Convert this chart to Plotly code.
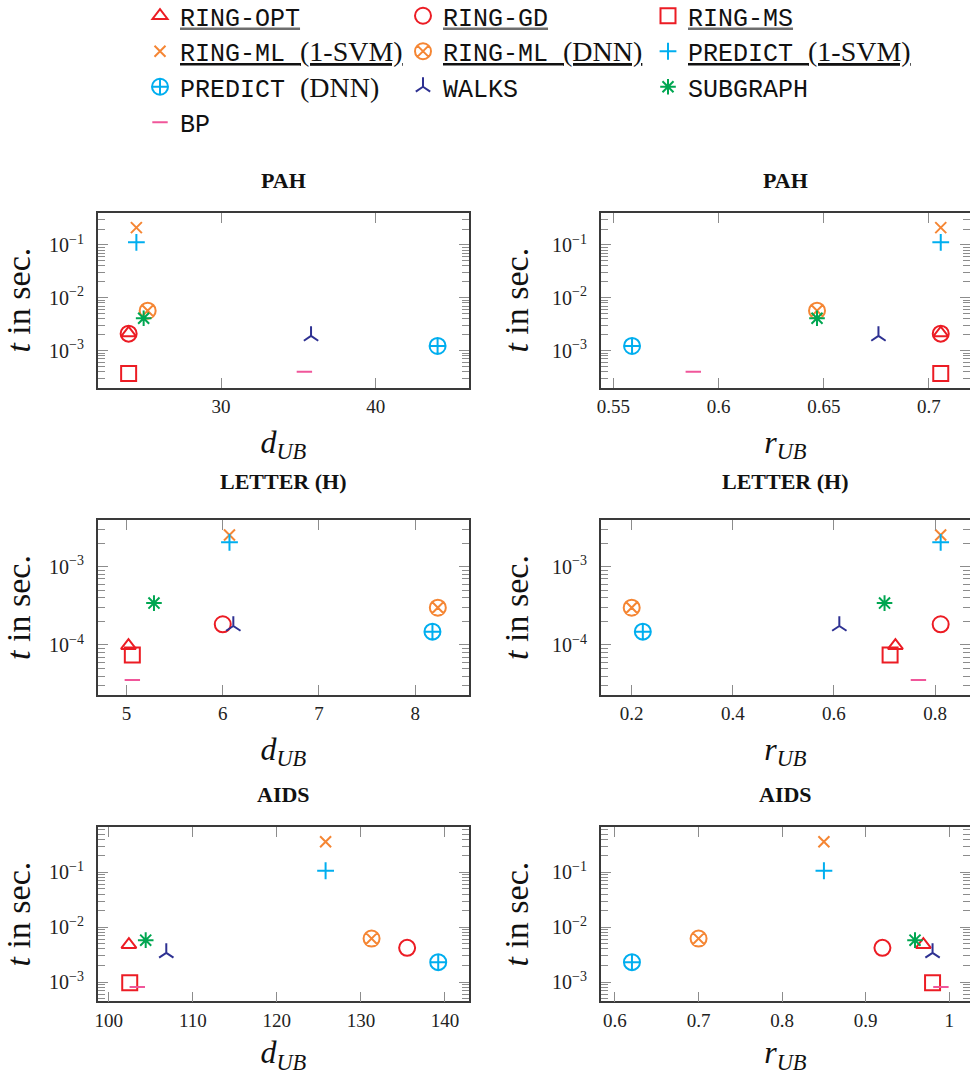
import math
import plotly.graph_objects as go

# ---------------------------------------------------------------- data
datasets = ["PAH", "LETTER (H)", "AIDS"]

# upper bound on the edit distance (d_UB), ratio (r_UB) and runtime in seconds
ring_opt_d = [24.03, 5.02, 102.4]
ring_opt_r = [0.7056, 0.7215, 0.969]
ring_opt_t = [2.15e-3, 9.8e-5, 4.8e-3]

ring_gd_d = [24.03, 6.0, 135.5]
ring_gd_r = [0.7056, 0.811, 0.92]
ring_gd_t = [2.1e-3, 1.84e-4, 4.2e-3]

ring_ms_d = [24.03, 5.06, 102.5]
ring_ms_r = [0.7056, 0.711, 0.98]
ring_ms_t = [3.7e-4, 7.45e-5, 9.7e-4]

ring_ml_svm_d = [24.53, 6.07, 125.8]
ring_ml_svm_r = [0.7056, 0.811, 0.85]
ring_ml_svm_t = [0.213, 2.54e-3, 0.361]

ring_ml_dnn_d = [25.26, 8.236, 131.27]
ring_ml_dnn_r = [0.6468, 0.2, 0.70]
ring_ml_dnn_t = [5.7e-3, 3.0e-4, 6.2e-3]

predict_svm_d = [24.53, 6.07, 125.8]
predict_svm_r = [0.7056, 0.811, 0.85]
predict_svm_t = [0.112, 2.05e-3, 0.107]

predict_dnn_d = [44.0, 8.18, 139.2]
predict_dnn_r = [0.5589, 0.222, 0.6203]
predict_dnn_t = [1.23e-3, 1.48e-4, 2.3e-3]

walks_d = [35.82, 6.11, 106.85]
walks_r = [0.676, 0.6106, 0.98]
walks_t = [1.9e-3, 1.75e-4, 3.4e-3]

subgraph_d = [25.0, 5.285, 104.4]
subgraph_r = [0.6468, 0.70, 0.959]
subgraph_t = [4.1e-3, 3.43e-4, 5.8e-3]

bp_d = [35.39, 5.06, 103.4]
bp_r = [0.588, 0.767, 0.99]
bp_t = [4.0e-4, 3.57e-5, 8.1e-4]

# axis ticks per dataset
d_ticks = [[30, 40], [5, 6, 7, 8], [100, 110, 120, 130, 140]]
r_ticks = [[0.55, 0.6, 0.65, 0.7], [0.2, 0.4, 0.6, 0.8], [0.6, 0.7, 0.8, 0.9, 1.0]]
r_tick_labels = [["0.55", "0.6", "0.65", "0.7"], ["0.2", "0.4", "0.6", "0.8"],
                 ["0.6", "0.7", "0.8", "0.9", "1"]]
t_decades = [[-3, -2, -1], [-4, -3], [-3, -2, -1]]

# ---------------------------------------------------------------- styling
RED = "#ec1c24"
ORANGE = "#f58634"
CYAN = "#00aeef"
NAVY = "#2e3192"
GREEN = "#00a651"
PINK = "#f0569a"

SERIF = "Liberation Serif"
MONO = "Liberation Mono"

# In SVG the underline takes the fill of the element that declares it,
# so the outer span carries the underline colour and the inner one the text colour.
UL_GRAY = "#6e6e6e"
UL_BLACK = "#111111"


def tt(label, extra=None, underline=None):
    """Legend label: typewriter name, optional roman suffix, optional underline."""
    s = label
    if extra:
        s += f' <span style="font-family:{SERIF};font-size:28px">{extra}</span>'
    if underline:
        s = (f'<span style="text-decoration:underline;color:{underline}">'
             f'<span style="color:#111111">{s}</span></span>')
    return s


methods = [
    # name, d, r, t, symbol, size, colour, legend
    (tt("RING-OPT", underline=UL_GRAY), ring_opt_d, ring_opt_r, ring_opt_t,
     "triangle-up-open", 13, RED, "legend"),
    (tt("RING-GD", underline=UL_GRAY), ring_gd_d, ring_gd_r, ring_gd_t,
     "circle-open", 16, RED, "legend2"),
    (tt("RING-MS", underline=UL_GRAY), ring_ms_d, ring_ms_r, ring_ms_t,
     "square-open", 15, RED, "legend3"),
    (tt("RING-ML", "(1-SVM)", underline=UL_BLACK), ring_ml_svm_d, ring_ml_svm_r, ring_ml_svm_t,
     "x-thin-open", 11, ORANGE, "legend"),
    (tt("RING-ML", "(DNN)", underline=UL_BLACK), ring_ml_dnn_d, ring_ml_dnn_r, ring_ml_dnn_t,
     "circle-x-open", 16, ORANGE, "legend2"),
    (tt("PREDICT", "(1-SVM)", underline=UL_BLACK), predict_svm_d, predict_svm_r, predict_svm_t,
     "cross-thin-open", 12, CYAN, "legend3"),
    (tt("PREDICT", "(DNN)"), predict_dnn_d, predict_dnn_r, predict_dnn_t,
     "circle-cross-open", 16, CYAN, "legend"),
    (tt("WALKS"), walks_d, walks_r, walks_t,
     "y-up-open", 12, NAVY, "legend2"),
    (tt("SUBGRAPH"), subgraph_d, subgraph_r, subgraph_t,
     "asterisk-open", 13, GREEN, "legend3"),
    (tt("BP"), bp_d, bp_r, bp_t,
     "line-ew-open", 11, PINK, "legend"),
]

W, H = 970, 1075

# plot-area boxes in pixels: (left, right) per column, (top, bottom) per row
col_px = [(97.7, 469.0), (600.7, 970.0)]
row_px = [(212.7, 387.7), (520.3, 694.7), (827.0, 1001.3)]
title_px = [180.7, 481.7, 794.0]

d_ranges = [[22.03, 46.03], [4.70, 8.56], [98.69, 142.86]]
r_ranges = [[0.544, 0.7195], [0.1387, 0.869], [0.5829, 1.0248]]
t_ranges = [[-3.70, -0.39], [-4.635, -2.407], [-3.352, -0.173]]

fig = go.Figure()

for row in range(3):
    for col in range(2):
        k = 2 * row + col + 1
        xs = "x" if k == 1 else f"x{k}"
        ys = "y" if k == 1 else f"y{k}"
        for name, d, r, t, sym, size, color, leg in methods:
            xv = d[row] if col == 0 else r[row]
            fig.add_trace(go.Scatter(
                x=[xv], y=[t[row]], mode="markers", name=name,
                xaxis=xs, yaxis=ys, legend=leg, legendgroup=name,
                showlegend=(k == 1),
                marker=dict(symbol=sym, size=size, color=color,
                            line=dict(width=2, color=color)),
                hoverinfo="skip",
            ))

layout = {}
TICK_GRAY = "#8c8c8c"
FRAME = "#3a3a3a"
for row in range(3):
    for col in range(2):
        k = 2 * row + col + 1
        xl, xr = col_px[col]
        yt, yb = row_px[row]
        xkey = "xaxis" if k == 1 else f"xaxis{k}"
        ykey = "yaxis" if k == 1 else f"yaxis{k}"
        if col == 0:
            xt, xtl, xrng = d_ticks[row], [str(v) for v in d_ticks[row]], d_ranges[row]
            xtitle = "<i>d</i><sub><i>UB</i></sub>"
        else:
            xt, xtl, xrng = r_ticks[row], r_tick_labels[row], r_ranges[row]
            xtitle = "<i>r</i><sub><i>UB</i></sub>"
        layout[xkey] = dict(
            domain=[xl / W, xr / W], anchor=("y" if k == 1 else f"y{k}"),
            range=xrng, tickmode="array", tickvals=xt, ticktext=xtl,
            ticks="inside", ticklen=10, tickwidth=1.3, tickcolor=TICK_GRAY,
            showline=True, linecolor=FRAME, linewidth=1.6, mirror="ticks",
            showgrid=False, zeroline=False, ticklabelstandoff=1,
            tickfont=dict(family=SERIF, size=19, color="#222"),
            title=dict(text=xtitle, font=dict(family=SERIF, size=32, color="#111"),
                       standoff=14),
        )
        decs = t_decades[row]
        lo, hi = t_ranges[row]
        minor_vals = [m * 10.0 ** e for e in range(int(lo) - 1, int(hi) + 1)
                      for m in range(2, 10)
                      if lo <= math.log10(m * 10.0 ** e) <= hi]
        layout[ykey] = dict(
            domain=[1 - yb / H, 1 - yt / H], anchor=("x" if k == 1 else f"x{k}"),
            type="log", range=[lo, hi],
            tickmode="array", tickvals=[10.0 ** e for e in decs],
            ticktext=[f"10<sup>\u2212{-e}</sup>" for e in decs],
            ticks="inside", ticklen=10, tickwidth=1.3, tickcolor=TICK_GRAY,
            minor=dict(tickmode="array", tickvals=minor_vals, ticks="inside",
                       ticklen=7, tickwidth=1.1, tickcolor=TICK_GRAY, showgrid=False),
            showline=True, linecolor=FRAME, linewidth=1.6, mirror="ticks",
            showgrid=False, zeroline=False, ticklabelstandoff=8,
            tickfont=dict(family=SERIF, size=20, color="#222"),
            title=dict(text="<i>t</i> in sec.", font=dict(family=SERIF, size=34, color="#111"),
                       standoff=13),
        )

annotations = []
for row in range(3):
    for col in range(2):
        xl, xr = col_px[col]
        annotations.append(dict(
            text=f"<b>{datasets[row]}</b>", x=(xl + xr) / 2 / W, y=1 - title_px[row] / H,
            xref="paper", yref="paper", xanchor="center", yanchor="middle",
            showarrow=False, font=dict(family=SERIF, size=22, color="#111"),
        ))

legend_common = dict(
    xanchor="left", yanchor="top", bgcolor="rgba(0,0,0,0)", borderwidth=0,
    font=dict(family=MONO, size=25, color="#111"), tracegroupgap=0,
    itemsizing="trace",
)
legend_top = 1 + 7 / H
layout["legend"] = dict(legend_common, x=140 / W, y=legend_top)
layout["legend2"] = dict(legend_common, x=403 / W, y=legend_top)
layout["legend3"] = dict(legend_common, x=648 / W, y=legend_top)

fig.update_layout(
    **layout,
    annotations=annotations,
    width=W, height=H, autosize=False,
    margin=dict(l=0, r=0, t=0, b=0, autoexpand=False),
    paper_bgcolor="white", plot_bgcolor="white",
)

fig.write_html("out.html")
